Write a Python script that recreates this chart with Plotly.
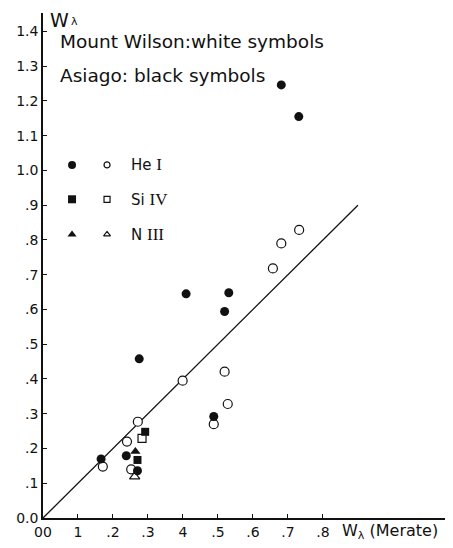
import plotly.graph_objects as go

# He I
he_asiago_x = [0.166, 0.238, 0.270, 0.275, 0.409, 0.488, 0.519, 0.531, 0.681, 0.731]
he_asiago_y = [0.170, 0.179, 0.136, 0.458, 0.645, 0.292, 0.594, 0.648, 1.246, 1.155]
he_mw_x = [0.171, 0.240, 0.252, 0.271, 0.399, 0.488, 0.519, 0.528, 0.657, 0.681, 0.732]
he_mw_y = [0.148, 0.220, 0.140, 0.277, 0.395, 0.270, 0.421, 0.328, 0.718, 0.790, 0.829]
# Si IV
si_asiago_x = [0.270, 0.292]
si_asiago_y = [0.167, 0.248]
si_mw_x = [0.283]
si_mw_y = [0.229]
# N III
n_asiago_x = [0.264]
n_asiago_y = [0.191]
n_mw_x = [0.262]
n_mw_y = [0.119]
# equality line
line_x = [0.0, 0.9]
line_y = [0.0, 0.9]

x_tickvals = [0, 0.1, 0.2, 0.3, 0.4, 0.5, 0.6, 0.7, 0.8]
x_ticktext = ["00", "1", ".2", ".3", "4", ".5", ".6", ".7", ".8"]
y_tickvals = [0, 0.1, 0.2, 0.3, 0.4, 0.5, 0.6, 0.7, 0.8, 0.9, 1.0, 1.1, 1.2, 1.3, 1.4]
y_ticktext = ["0.0", ".1", ".2", ".3", ".4", ".5", ".6", ".7", ".8", ".9", "1.0", "1.1", "1.2", "1.3", "1.4"]

legend_labels = ["He <span style='font-family:Liberation Serif;font-size:17px'>I</span>",
                 "Si <span style='font-family:Liberation Serif;font-size:17px'>IV</span>",
                 "N <span style='font-family:Liberation Serif;font-size:17px'>III</span>"]
legend_y = [1.016, 0.917, 0.816]
legend_symbols = ["circle", "square", "triangle-up"]

FONT = "DejaVu Sans"
BLK = "#111111"

fig = go.Figure()
fig.add_trace(go.Scatter(x=line_x, y=line_y, mode="lines",
                         line=dict(color=BLK, width=1.3), showlegend=False, hoverinfo="skip"))

def filled(xs, ys, sym, size):
    fig.add_trace(go.Scatter(x=xs, y=ys, mode="markers", showlegend=False,
                             marker=dict(symbol=sym, size=size, color=BLK,
                                         line=dict(color=BLK, width=0))))

def hollow(xs, ys, sym, size):
    fig.add_trace(go.Scatter(x=xs, y=ys, mode="markers", showlegend=False,
                             marker=dict(symbol=sym, size=size, color="white",
                                         line=dict(color=BLK, width=1.2))))

hollow(he_mw_x, he_mw_y, "circle", 9)
hollow(si_mw_x, si_mw_y, "square", 8)
hollow(n_mw_x, n_mw_y, "triangle-up", 9)
filled(he_asiago_x, he_asiago_y, "circle", 9)
filled(si_asiago_x, si_asiago_y, "square", 8)
filled(n_asiago_x, n_asiago_y, "triangle-up", 9)

# legend symbols
for sym, ly in zip(legend_symbols, legend_y):
    filled([0.083], [ly], sym, 8)
    hollow([0.183], [ly], sym, 6)

annotations = []
for lab, ly in zip(legend_labels, legend_y):
    annotations.append(dict(x=0.245, y=ly, xref="x", yref="y", text=lab, showarrow=False,
                            xanchor="left", yanchor="middle",
                            font=dict(family=FONT, size=15, color=BLK)))
annotations.append(dict(x=0.042, y=1.372, xref="x", yref="y", text="Mount Wilson:white symbols",
                        showarrow=False, xanchor="left", yanchor="middle",
                        font=dict(family=FONT, size=18.5, color=BLK)))
annotations.append(dict(x=0.042, y=1.272, xref="x", yref="y", text="Asiago: black symbols",
                        showarrow=False, xanchor="left", yanchor="middle",
                        font=dict(family=FONT, size=18.5, color=BLK)))
# y-axis label: W with a small lambda subscript
annotations.append(dict(x=0.0, y=1.0, xref="x", yref="paper", text="W",
                        showarrow=False, xanchor="left", yanchor="top", yshift=6, xshift=5,
                        font=dict(family=FONT, size=19, color=BLK)))
annotations.append(dict(x=0.074, y=1.428, xref="x", yref="y", text="λ",
                        showarrow=False, xanchor="left", yanchor="middle",
                        font=dict(family=FONT, size=11, color=BLK)))
annotations.append(dict(x=0.85, y=0, xref="x", yref="paper", text="W<sub>λ</sub> (Merate)",
                        showarrow=False, xanchor="left", yanchor="top", yshift=-1,
                        font=dict(family=FONT, size=16, color=BLK)))

# page body has an 8px margin: shrink the figure so it fits the 453x548 window
fig.update_layout(
    width=445, height=540,
    margin=dict(l=35, r=2, t=5, b=30),
    paper_bgcolor="white", plot_bgcolor="white",
    annotations=annotations,
    showlegend=False,
)
fig.update_xaxes(range=[0, 1.166], showgrid=False, zeroline=False, automargin=False,
                 showline=True, linecolor=BLK, linewidth=1.5,
                 ticks="inside", ticklen=4, tickwidth=1.2, tickcolor=BLK,
                 tickvals=x_tickvals, ticktext=x_ticktext,
                 tickfont=dict(family=FONT, size=14, color=BLK))
fig.update_yaxes(range=[0, 1.453], showgrid=False, zeroline=False, automargin=False,
                 showline=True, linecolor=BLK, linewidth=1.5,
                 ticks="inside", ticklen=4, tickwidth=1.2, tickcolor=BLK,
                 tickvals=y_tickvals, ticktext=y_ticktext,
                 tickfont=dict(family=FONT, size=14, color=BLK))

fig.write_html("out.html")
